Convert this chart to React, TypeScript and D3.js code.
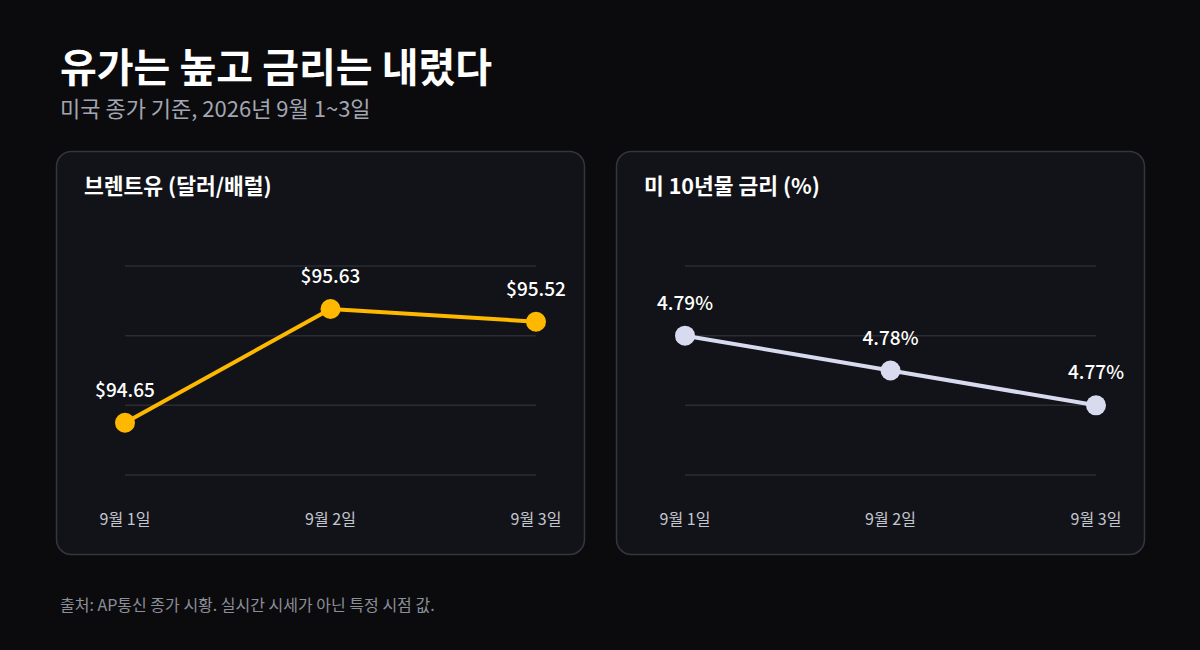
import React from "react";
import * as d3 from "d3";

const dates = ["9월 1일", "9월 2일", "9월 3일"];
const oilValues = [94.65, 95.63, 95.52];
const oilLabels = ["$94.65", "$95.63", "$95.52"];
const oilDomain = [94.2, 96.0];
const rateValues = [4.79, 4.78, 4.77];
const rateLabels = ["4.79%", "4.78%", "4.77%"];
const rateDomain = [4.75, 4.81];

const W = 1200;
const H = 650;
const FONT = "'Noto Sans CJK KR', 'Noto Sans', sans-serif";

type PanelProps = {
  x: number;
  title: string;
  values: number[];
  labels: string[];
  domain: number[];
  color: string;
};

function Panel({ x, title, values, labels, domain, color }: PanelProps) {
  const pw = 528;
  const ph = 403;
  const py = 151;
  const xs = d3.scalePoint<string>().domain(dates).range([x + 69, x + 480]);
  const ys = d3.scaleLinear().domain(domain).range([475, 266]);
  const grid = d3.range(4).map((i) => domain[0] + ((domain[1] - domain[0]) * i) / 3);
  const line = d3
    .line<number>()
    .x((_, i) => xs(dates[i]) as number)
    .y((d) => ys(d));
  return (
    <g>
      <rect x={x + 0.5} y={py + 0.5} width={pw} height={ph} rx={15} fill="#121318" stroke="#34363d" strokeWidth={1.5} />
      <text x={x + 28} y={194} fill="#ffffff" fontSize={21.5} fontWeight={700} fontFamily={FONT}>
        {title}
      </text>
      {grid.map((g, i) => (
        <line key={i} x1={x + 69} x2={x + 480} y1={ys(g)} y2={ys(g)} stroke="#2a2c33" strokeWidth={1.5} />
      ))}
      <path d={line(values) || ""} fill="none" stroke={color} strokeWidth={4} strokeLinejoin="round" />
      {values.map((v, i) => (
        <circle key={i} cx={xs(dates[i]) as number} cy={ys(v)} r={10} fill={color} />
      ))}
      {values.map((v, i) => (
        <text
          key={i}
          x={xs(dates[i]) as number}
          y={ys(v) - 26}
          textAnchor="middle"
          fill="#ffffff"
          fontSize={19}
          fontWeight={500}
          fontFamily={FONT}
        >
          {labels[i]}
        </text>
      ))}
      {dates.map((d, i) => (
        <text
          key={i}
          x={xs(d) as number}
          y={525}
          textAnchor="middle"
          fill="#c3c6cf"
          fontSize={16}
          fontFamily={FONT}
        >
          {d}
        </text>
      ))}
    </g>
  );
}

export default function App() {
  return (
    <div>
      <style>{`body{margin:0;background:#0b0b0d;}`}</style>
      <svg width={W} height={H} style={{ display: "block" }}>
        <rect width={W} height={H} fill="#0b0b0d" />
        <text x={60} y={82} fill="#ffffff" fontSize={40} fontWeight={700} fontFamily={FONT}>
          유가는 높고 금리는 내렸다
        </text>
        <text x={60} y={117} fill="#a2a6b2" fontSize={22} fontWeight={400} fontFamily={FONT}>
          미국 종가 기준, 2026년 9월 1~3일
        </text>
        <Panel x={56} title="브렌트유 (달러/배럴)" values={oilValues} labels={oilLabels} domain={oilDomain} color="#ffb800" />
        <Panel x={616} title="미 10년물 금리 (%)" values={rateValues} labels={rateLabels} domain={rateDomain} color="#d8dbef" />
        <text x={60} y={611} fill="#8b8f99" fontSize={16} fontFamily={FONT}>
          출처: AP통신 종가 시황. 실시간 시세가 아닌 특정 시점 값.
        </text>
      </svg>
    </div>
  );
}
